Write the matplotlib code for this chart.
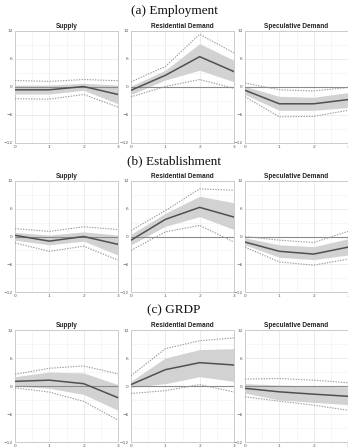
import matplotlib
matplotlib.use("Agg")
import matplotlib.pyplot as plt
from matplotlib.ticker import MultipleLocator
import numpy as np

horizon = [0, 1, 2, 3]
row_titles = ["(a) Employment", "(b) Establishment", "(c) GRDP"]
col_titles = ["Supply", "Residential Demand", "Speculative Demand"]

# Employment
emp_sup_med = [-0.6, -0.6, 0.1, -1.6]
emp_sup_lo68 = [-1.5, -1.5, -0.7, -3.6]
emp_sup_hi68 = [0.4, 0.4, 0.8, 0.4]
emp_sup_lo90 = [-2.5, -2.6, -1.6, -4.3]
emp_sup_hi90 = [1.4, 1.2, 1.6, 1.35]

emp_res_med = [-0.7, 2.5, 6.5, 3.3]
emp_res_lo68 = [-1.6, 1.5, 3.6, 1.1]
emp_res_hi68 = [0.2, 3.6, 9.3, 5.7]
emp_res_lo90 = [-2.1, 0.1, 1.6, -0.3]
emp_res_hi90 = [1.1, 4.4, 11.3, 7.3]

emp_spe_med = [-0.7, -3.6, -3.6, -2.7]
emp_spe_lo68 = [-1.6, -5.0, -5.0, -4.4]
emp_spe_hi68 = [0.1, -2.0, -2.2, -1.2]
emp_spe_lo90 = [-2.1, -6.4, -6.3, -5.0]
emp_spe_hi90 = [0.85, -0.6, -0.85, -0.1]

# Establishment
est_sup_med = [0.25, -1.0, 0.0, -1.7]
est_sup_lo68 = [-0.8, -1.8, -1.0, -4.0]
est_sup_hi68 = [0.9, 0.3, 1.0, 0.3]
est_sup_lo90 = [-1.4, -3.2, -2.1, -5.1]
est_sup_hi90 = [1.7, 1.1, 2.1, 1.5]

est_res_med = [-0.8, 3.7, 6.3, 4.2]
est_res_lo68 = [-1.8, 2.2, 4.3, 1.5]
est_res_hi68 = [0.5, 5.0, 8.7, 7.3]
est_res_lo90 = [-3.0, 1.0, 2.4, -1.2]
est_res_hi90 = [1.3, 5.6, 10.3, 10.0]

est_spe_med = [-1.2, -3.2, -3.8, -2.3]
est_spe_lo68 = [-1.8, -4.5, -5.0, -4.0]
est_spe_hi68 = [-0.3, -1.8, -2.2, -0.5]
est_spe_lo90 = [-2.3, -5.5, -6.2, -4.9]
est_spe_hi90 = [0.0, -0.8, -1.3, 1.1]

# GRDP
grdp_sup_med = [1.0, 1.25, 0.5, -2.5]
grdp_sup_lo68 = [0.0, -0.5, -1.8, -5.2]
grdp_sup_hi68 = [2.0, 3.0, 2.8, 0.3]
grdp_sup_lo90 = [-0.4, -1.3, -3.3, -7.3]
grdp_sup_hi90 = [2.5, 3.8, 4.3, 2.6]

grdp_res_med = [0.3, 3.5, 5.0, 4.5]
grdp_res_lo68 = [-0.3, 0.5, 2.0, 1.0]
grdp_res_hi68 = [1.0, 6.0, 7.8, 8.0]
grdp_res_lo90 = [-1.6, -1.0, 0.3, -1.3]
grdp_res_hi90 = [2.2, 8.0, 9.7, 10.3]

grdp_spe_med = [-0.5, -1.25, -1.75, -2.2]
grdp_spe_lo68 = [-1.5, -3.0, -3.5, -4.0]
grdp_spe_hi68 = [0.5, 0.2, 0.0, -0.2]
grdp_spe_lo90 = [-2.3, -3.25, -4.1, -5.2]
grdp_spe_hi90 = [1.5, 1.6, 1.25, 0.7]

panels = [
    [(emp_sup_med, emp_sup_lo68, emp_sup_hi68, emp_sup_lo90, emp_sup_hi90),
     (emp_res_med, emp_res_lo68, emp_res_hi68, emp_res_lo90, emp_res_hi90),
     (emp_spe_med, emp_spe_lo68, emp_spe_hi68, emp_spe_lo90, emp_spe_hi90)],
    [(est_sup_med, est_sup_lo68, est_sup_hi68, est_sup_lo90, est_sup_hi90),
     (est_res_med, est_res_lo68, est_res_hi68, est_res_lo90, est_res_hi90),
     (est_spe_med, est_spe_lo68, est_spe_hi68, est_spe_lo90, est_spe_hi90)],
    [(grdp_sup_med, grdp_sup_lo68, grdp_sup_hi68, grdp_sup_lo90, grdp_sup_hi90),
     (grdp_res_med, grdp_res_lo68, grdp_res_hi68, grdp_res_lo90, grdp_res_hi90),
     (grdp_spe_med, grdp_spe_lo68, grdp_spe_hi68, grdp_spe_lo90, grdp_spe_hi90)],
]

W, H = 348, 447
fig = plt.figure(figsize=(W / 100, H / 100), dpi=100)

col_x = [15, 131, 245]
col_w = 103
row_y = [(31, 143), (181, 292), (330, 442)]
row_title_y = [11, 161, 310]

for r in range(3):
    top, bot = row_y[r]
    fig.text(0.5, 1 - row_title_y[r] / H, row_titles[r], ha="center", va="center",
             fontsize=9.5, family="Liberation Serif", color="#111111")
    for c in range(3):
        ax = fig.add_axes([col_x[c] / W, 1 - bot / H, col_w / W, (bot - top) / H])
        med, lo68, hi68, lo90, hi90 = panels[r][c]
        ax.fill_between(horizon, lo68, hi68, color="#d2d2d2", linewidth=0, zorder=2)
        ax.axhline(0, color="#8a8a8a", lw=0.8, zorder=3)
        ax.plot(horizon, lo90, color="#999999", lw=0.8, ls=(0, (1.2, 1.2)), zorder=4)
        ax.plot(horizon, hi90, color="#999999", lw=0.8, ls=(0, (1.2, 1.2)), zorder=4)
        ax.plot(horizon, med, color="#505050", lw=1.1, zorder=5)
        ax.set_xlim(0, 3)
        ax.set_ylim(-12, 12)
        ax.set_xticks(horizon)
        ax.set_yticks([-12, -6, 0, 6, 12])
        ax.xaxis.set_minor_locator(MultipleLocator(0.5))
        ax.yaxis.set_minor_locator(MultipleLocator(3))
        ax.grid(which="major", color="#e4e4e4", lw=0.5, zorder=0)
        ax.grid(which="minor", color="#efefef", lw=0.4, zorder=0)
        ax.set_axisbelow(True)
        ax.tick_params(which="both", length=0, labelsize=3.2, colors="#555555", pad=1.5)
        for s in ax.spines.values():
            s.set_color("#cccccc")
            s.set_linewidth(0.7)
        ax.set_title(col_titles[c], fontsize=4.7, fontweight="bold",
                     family="Liberation Sans", color="#222222", pad=2.5)

fig.savefig("out.png", dpi=100)
